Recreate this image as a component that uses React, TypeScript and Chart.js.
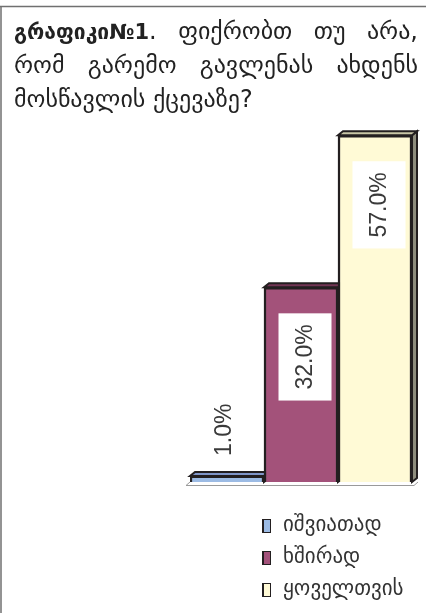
import { useEffect, useRef } from 'react';
import { Chart, registerables } from 'chart.js';

Chart.register(...registerables);

const titleBold = 'გრაფიკი№1';
const titleRest = '.';
const titleLine1Words = ['ფიქრობთ', 'თუ', 'არა,'];
const titleLine2Words = ['რომ', 'გარემო', 'გავლენას', 'ახდენს'];
const titleLine3 = 'მოსწავლის ქცევაზე?';

const categories = [''];
const seriesLabels = ['იშვიათად', 'ხშირად', 'ყოველთვის'];
const seriesValues = [1.0, 32.0, 57.0];
const valueLabels = ['1.0%', '32.0%', '57.0%'];

const frontColors = ['#9cbbe4', '#a3527a', '#fffad6'];
const topColors = ['#7f95c8', '#733655', '#c9c7a7'];
const sideColors = ['#5d709c', '#5c2b44', '#8e8d7d'];
const DARK = '#231f20';
const GEO = '"DejaVu Sans", sans-serif';

export default function App() {
  const ref = useRef<HTMLCanvasElement | null>(null);

  useEffect(() => {
    const canvas = ref.current;
    if (!canvas) return;

    const framePlugin = {
      id: 'frame',
      beforeDraw(chart: any) {
        const ctx = chart.ctx;
        ctx.save();
        ctx.fillStyle = '#ffffff';
        ctx.fillRect(0, 0, chart.width, chart.height);
        ctx.strokeStyle = '#707070';
        ctx.lineWidth = 1.5;
        ctx.beginPath();
        ctx.moveTo(0, 6.5);
        ctx.lineTo(chart.width, 6.5);
        ctx.moveTo(1, 6);
        ctx.lineTo(1, chart.height);
        ctx.stroke();

        // title
        const left = 14;
        const right = 418;
        ctx.fillStyle = '#222';
        ctx.textBaseline = 'alphabetic';
        const normalFont = '24px ' + GEO;
        const boldFont = 'bold 21px ' + GEO;
        // line 1
        ctx.font = boldFont;
        const wb = ctx.measureText(titleBold).width;
        ctx.font = normalFont;
        const wr = ctx.measureText(titleRest).width;
        const w1 = titleLine1Words.map((w) => ctx.measureText(w).width);
        const total1 = wb + wr + w1.reduce((a, b) => a + b, 0);
        const gap1 = (right - left - total1) / titleLine1Words.length;
        let x = left;
        const y1 = 39;
        ctx.font = boldFont;
        ctx.fillText(titleBold, x, y1);
        x += wb;
        ctx.font = normalFont;
        ctx.fillText(titleRest, x, y1);
        x += wr;
        titleLine1Words.forEach((w, i) => {
          x += gap1;
          ctx.fillText(w, x, y1);
          x += w1[i];
        });
        // line 2
        const w2 = titleLine2Words.map((w) => ctx.measureText(w).width);
        const total2 = w2.reduce((a, b) => a + b, 0);
        const gap2 = (right - left - total2) / (titleLine2Words.length - 1);
        x = left;
        titleLine2Words.forEach((w, i) => {
          ctx.fillText(w, x, 73);
          x += w2[i] + gap2;
        });
        // line 3
        ctx.fillText(titleLine3, left, 107);
        ctx.restore();
      },
      beforeDatasetsDraw(chart: any) {
        const ctx = chart.ctx;
        const dx = 5;
        const dy = 4;
        ctx.save();
        // floor
        const area = chart.chartArea;
        ctx.strokeStyle = '#9a9a9a';
        ctx.lineWidth = 1;
        ctx.beginPath();
        ctx.moveTo(area.left - 4, area.bottom + 3.5);
        ctx.lineTo(area.right + 2, area.bottom + 3.5);
        ctx.lineTo(area.right + dx + 1, area.bottom);
        ctx.moveTo(area.left - 4, area.bottom + 3.5);
        ctx.lineTo(area.left, area.bottom);
        ctx.stroke();
        chart.data.datasets.forEach((_ds: any, i: number) => {
          const bar = chart.getDatasetMeta(i).data[0];
          if (!bar) return;
          const l = bar.x - bar.width / 2;
          const r = bar.x + bar.width / 2;
          const t = bar.y;
          const b = bar.base;
          ctx.lineWidth = 2;
          ctx.strokeStyle = DARK;
          ctx.fillStyle = sideColors[i];
          ctx.beginPath();
          ctx.moveTo(r, t);
          ctx.lineTo(r + dx, t - dy);
          ctx.lineTo(r + dx, b - dy);
          ctx.lineTo(r, b);
          ctx.closePath();
          ctx.fill();
          ctx.stroke();
          ctx.fillStyle = topColors[i];
          ctx.beginPath();
          ctx.moveTo(l, t);
          ctx.lineTo(l + dx, t - dy);
          ctx.lineTo(r + dx, t - dy);
          ctx.lineTo(r, t);
          ctx.closePath();
          ctx.fill();
          ctx.stroke();
        });
        ctx.restore();
      },
      afterDatasetsDraw(chart: any) {
        const ctx = chart.ctx;
        ctx.save();
        ctx.font = '23px "Liberation Sans", Arial, sans-serif';
        chart.data.datasets.forEach((_ds: any, i: number) => {
          const bar = chart.getDatasetMeta(i).data[0];
          if (!bar) return;
          const txt = valueLabels[i];
          const tw = ctx.measureText(txt).width;
          const boxH = tw + 22;
          const boxW = 53;
          const h = bar.base - bar.y;
          let cx;
          let cy;
          if (h > boxH + 40) {
            cx = bar.x + 4;
            cy = bar.y + 26 + boxH / 2;
            ctx.fillStyle = '#ffffff';
            ctx.fillRect(cx - boxW / 2, cy - boxH / 2, boxW, boxH);
          } else {
            cx = bar.x - 3;
            cy = bar.y - 20 - tw / 2;
          }
          ctx.save();
          ctx.translate(cx, cy);
          ctx.rotate(-Math.PI / 2);
          ctx.fillStyle = '#3a3a3a';
          ctx.textAlign = 'center';
          ctx.textBaseline = 'middle';
          ctx.fillText(txt, 0, 1);
          ctx.restore();
        });
        ctx.restore();
      },
      afterDraw(chart: any) {
        const ctx = chart.ctx;
        ctx.save();
        ctx.font = '21px ' + GEO;
        ctx.textBaseline = 'middle';
        const rows = [526, 558, 590];
        seriesLabels.forEach((lab, i) => {
          const y = rows[i];
          ctx.fillStyle = frontColors[i];
          ctx.fillRect(262, y - 7, 9, 14);
          ctx.strokeStyle = DARK;
          ctx.lineWidth = 1;
          ctx.strokeRect(262.5, y - 6.5, 8, 13);
          ctx.fillStyle = DARK;
          ctx.fillRect(262, y - 7, 2, 14);
          ctx.fillStyle = '#333333';
          ctx.fillText(lab, 283, y);
        });
        ctx.restore();
      },
    };

    const chart = new Chart(canvas, {
      type: 'bar',
      data: {
        labels: categories,
        datasets: seriesLabels.map((lab, i) => ({
          label: lab,
          data: [seriesValues[i]],
          backgroundColor: frontColors[i],
          borderColor: DARK,
          borderWidth: { top: 2.5, left: 2.5, right: 2.5, bottom: 0 },
          borderSkipped: false,
          barPercentage: 1,
          categoryPercentage: 1,
        })),
      },
      options: {
        responsive: false,
        animation: false,
        devicePixelRatio: 1,
        layout: { padding: { left: 190, right: 14, top: 117, bottom: 131 } },
        plugins: {
          legend: { display: false },
          title: { display: false },
          tooltip: { enabled: false },
        },
        scales: {
          x: { display: false },
          y: { display: false, min: 0, max: 60 },
        },
      },
      plugins: [framePlugin],
    } as any);

    return () => chart.destroy();
  }, []);

  return (
    <div style={{ position: 'absolute', left: 0, top: 0, width: 426, height: 613 }}>
      <canvas ref={ref} width={426} height={613} />
    </div>
  );
}
